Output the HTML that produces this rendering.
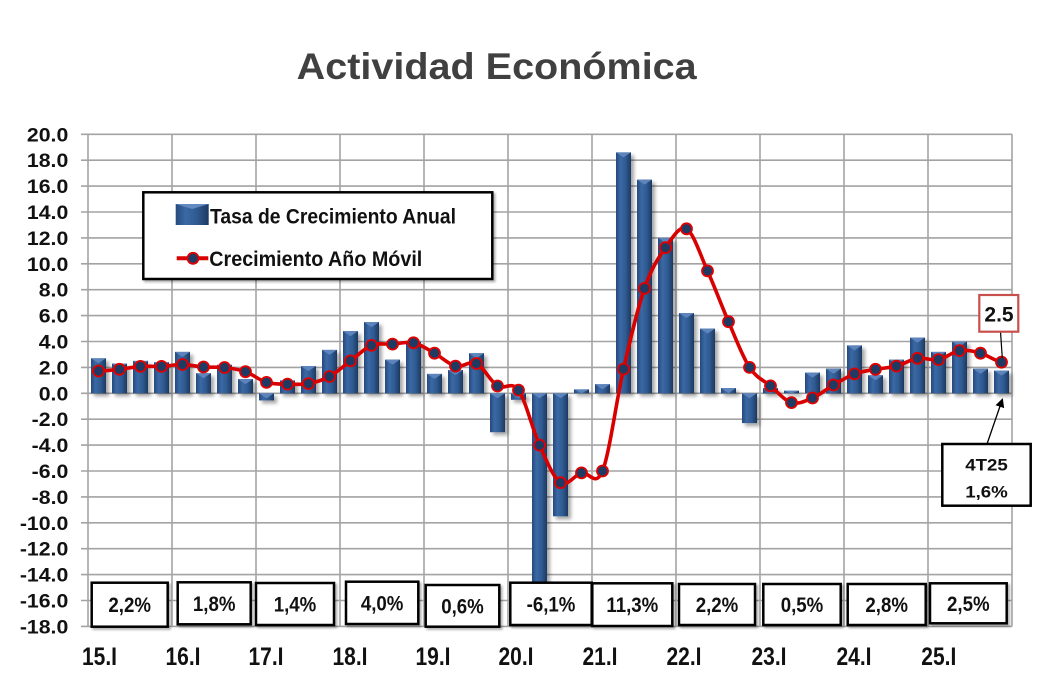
<!DOCTYPE html>
<html><head><meta charset="utf-8"><style>
html,body{margin:0;padding:0;background:#fff;}
svg{display:block;font-family:"Liberation Sans",Arial,sans-serif;}
</style></head><body>
<svg width="1053" height="686" viewBox="0 0 1053 686" xmlns="http://www.w3.org/2000/svg">
<defs>
<linearGradient id="bg" x1="0" y1="0" x2="1" y2="0">
<stop offset="0" stop-color="#26497c"/><stop offset="0.3" stop-color="#3b69a5"/><stop offset="0.65" stop-color="#2f5a90"/><stop offset="1" stop-color="#1c3962"/>
</linearGradient>
<filter id="sh" x="-20%" y="-20%" width="160%" height="140%"><feDropShadow dx="3" dy="3" stdDeviation="1.8" flood-color="#000" flood-opacity="0.35"/></filter>
<filter id="bs" x="-10%" y="-10%" width="130%" height="140%"><feDropShadow dx="2" dy="2" stdDeviation="1" flood-color="#000" flood-opacity="0.3"/></filter>
<marker id="ah" viewBox="0 0 10 10" refX="9" refY="5" markerWidth="7" markerHeight="7" orient="auto"><path d="M0,0 L10,5 L0,10 z" fill="#000"/></marker>
</defs>
<rect width="1053" height="686" fill="#fff"/>
<text x="496.7" y="79" text-anchor="middle" font-size="37" font-weight="bold" fill="#404040" textLength="400" lengthAdjust="spacingAndGlyphs">Actividad Económica</text>
<g stroke="#a3a3a3" stroke-width="1.6">
<line x1="81" y1="134.3" x2="1012" y2="134.3"/><line x1="81" y1="160.2" x2="1012" y2="160.2"/><line x1="81" y1="186.1" x2="1012" y2="186.1"/><line x1="81" y1="212" x2="1012" y2="212"/><line x1="81" y1="237.9" x2="1012" y2="237.9"/><line x1="81" y1="263.8" x2="1012" y2="263.8"/><line x1="81" y1="289.7" x2="1012" y2="289.7"/><line x1="81" y1="315.6" x2="1012" y2="315.6"/><line x1="81" y1="341.5" x2="1012" y2="341.5"/><line x1="81" y1="367.4" x2="1012" y2="367.4"/><line x1="81" y1="393.3" x2="1012" y2="393.3"/><line x1="81" y1="419.2" x2="1012" y2="419.2"/><line x1="81" y1="445.1" x2="1012" y2="445.1"/><line x1="81" y1="471" x2="1012" y2="471"/><line x1="81" y1="496.9" x2="1012" y2="496.9"/><line x1="81" y1="522.8" x2="1012" y2="522.8"/><line x1="81" y1="548.7" x2="1012" y2="548.7"/><line x1="81" y1="574.6" x2="1012" y2="574.6"/><line x1="81" y1="600.5" x2="1012" y2="600.5"/><line x1="81" y1="626.4" x2="1012" y2="626.4"/>
<line x1="88" y1="134.3" x2="88" y2="626.4"/><line x1="172" y1="134.3" x2="172" y2="626.4"/><line x1="256" y1="134.3" x2="256" y2="626.4"/><line x1="340" y1="134.3" x2="340" y2="626.4"/><line x1="424" y1="134.3" x2="424" y2="626.4"/><line x1="508" y1="134.3" x2="508" y2="626.4"/><line x1="592" y1="134.3" x2="592" y2="626.4"/><line x1="676" y1="134.3" x2="676" y2="626.4"/><line x1="760" y1="134.3" x2="760" y2="626.4"/><line x1="844" y1="134.3" x2="844" y2="626.4"/><line x1="928" y1="134.3" x2="928" y2="626.4"/><line x1="1012" y1="134.3" x2="1012" y2="626.4"/>
</g>
<g filter="url(#sh)" fill="url(#bg)">
<rect x="91" y="358.3" width="15" height="35"/><rect x="112" y="363.5" width="15" height="29.8"/><rect x="133" y="360.9" width="15" height="32.4"/><rect x="154" y="362.2" width="15" height="31.1"/><rect x="175" y="351.9" width="15" height="41.4"/><rect x="196" y="373.2" width="15" height="20.1"/><rect x="217" y="364.8" width="15" height="28.5"/><rect x="238" y="379.1" width="15" height="14.2"/><rect x="259" y="393.3" width="15" height="7.1"/><rect x="280" y="380.4" width="15" height="12.9"/><rect x="301" y="366.1" width="15" height="27.2"/><rect x="322" y="349.9" width="15" height="43.4"/><rect x="343" y="331.1" width="15" height="62.2"/><rect x="364" y="322.1" width="15" height="71.2"/><rect x="385" y="359.6" width="15" height="33.7"/><rect x="406" y="341.5" width="15" height="51.8"/><rect x="427" y="373.9" width="15" height="19.4"/><rect x="448" y="370" width="15" height="23.3"/><rect x="469" y="353.2" width="15" height="40.1"/><rect x="490" y="393.3" width="15" height="38.9"/><rect x="511" y="393.3" width="15" height="6.5"/><rect x="532" y="393.3" width="15" height="200.7"/><rect x="553" y="393.3" width="15" height="123"/><rect x="574" y="389.4" width="15" height="3.9"/><rect x="595" y="384.2" width="15" height="9.1"/><rect x="616" y="152.4" width="15" height="240.9"/><rect x="637" y="179.6" width="15" height="213.7"/><rect x="658" y="237.9" width="15" height="155.4"/><rect x="679" y="313" width="15" height="80.3"/><rect x="700" y="328.6" width="15" height="64.7"/><rect x="721" y="388.1" width="15" height="5.2"/><rect x="742" y="393.3" width="15" height="29.8"/><rect x="763" y="388.1" width="15" height="5.2"/><rect x="784" y="390.7" width="15" height="2.6"/><rect x="805" y="372.6" width="15" height="20.7"/><rect x="826" y="368.7" width="15" height="24.6"/><rect x="847" y="345.4" width="15" height="47.9"/><rect x="868" y="375.2" width="15" height="18.1"/><rect x="889" y="359.6" width="15" height="33.7"/><rect x="910" y="337.6" width="15" height="55.7"/><rect x="931" y="351.9" width="15" height="41.4"/><rect x="952" y="341.5" width="15" height="51.8"/><rect x="973" y="368.7" width="15" height="24.6"/><rect x="994" y="370.6" width="15" height="22.7"/>
</g>
<g fill="#6289c0" opacity="0.9">
<polygon points="91,358.3 106,358.3 98.5,363.3"/><polygon points="112,363.5 127,363.5 119.5,368.5"/><polygon points="133,360.9 148,360.9 140.5,365.9"/><polygon points="154,362.2 169,362.2 161.5,367.2"/><polygon points="175,351.9 190,351.9 182.5,356.9"/><polygon points="196,373.2 211,373.2 203.5,378.2"/><polygon points="217,364.8 232,364.8 224.5,369.8"/><polygon points="238,379.1 253,379.1 245.5,384.1"/><polygon points="259,393.3 274,393.3 266.5,398.3"/><polygon points="280,380.4 295,380.4 287.5,385.4"/><polygon points="301,366.1 316,366.1 308.5,371.1"/><polygon points="322,349.9 337,349.9 329.5,354.9"/><polygon points="343,331.1 358,331.1 350.5,336.1"/><polygon points="364,322.1 379,322.1 371.5,327.1"/><polygon points="385,359.6 400,359.6 392.5,364.6"/><polygon points="406,341.5 421,341.5 413.5,346.5"/><polygon points="427,373.9 442,373.9 434.5,378.9"/><polygon points="448,370 463,370 455.5,375"/><polygon points="469,353.2 484,353.2 476.5,358.2"/><polygon points="490,393.3 505,393.3 497.5,398.3"/><polygon points="511,393.3 526,393.3 518.5,398.3"/><polygon points="532,393.3 547,393.3 539.5,398.3"/><polygon points="553,393.3 568,393.3 560.5,398.3"/><polygon points="574,389.4 589,389.4 581.5,393.3"/><polygon points="595,384.2 610,384.2 602.5,389.2"/><polygon points="616,152.4 631,152.4 623.5,157.4"/><polygon points="637,179.6 652,179.6 644.5,184.6"/><polygon points="658,237.9 673,237.9 665.5,242.9"/><polygon points="679,313 694,313 686.5,318"/><polygon points="700,328.6 715,328.6 707.5,333.6"/><polygon points="721,388.1 736,388.1 728.5,393.1"/><polygon points="742,393.3 757,393.3 749.5,398.3"/><polygon points="763,388.1 778,388.1 770.5,393.1"/><polygon points="784,390.7 799,390.7 791.5,393.3"/><polygon points="805,372.6 820,372.6 812.5,377.6"/><polygon points="826,368.7 841,368.7 833.5,373.7"/><polygon points="847,345.4 862,345.4 854.5,350.4"/><polygon points="868,375.2 883,375.2 875.5,380.2"/><polygon points="889,359.6 904,359.6 896.5,364.6"/><polygon points="910,337.6 925,337.6 917.5,342.6"/><polygon points="931,351.9 946,351.9 938.5,356.9"/><polygon points="952,341.5 967,341.5 959.5,346.5"/><polygon points="973,368.7 988,368.7 980.5,373.7"/><polygon points="994,370.6 1009,370.6 1001.5,375.6"/>
</g>
<path fill="none" stroke="#d90000" stroke-width="3.6" stroke-linejoin="round" d="M98.5,371 C105.5,370.72 112.5,370.07 119.5,369.3 C126.5,368.53 133.5,366.88 140.5,366.4 C147.5,365.92 154.5,366.72 161.5,366.4 C168.5,366.08 175.5,364.4 182.5,364.5 C189.5,364.6 196.5,366.5 203.5,367 C210.5,367.5 217.5,366.72 224.5,367.5 C231.5,368.28 238.5,369.22 245.5,371.7 C252.5,374.18 259.5,380.33 266.5,382.4 C273.5,384.47 280.5,383.9 287.5,384.1 C294.5,384.3 301.5,384.87 308.5,383.6 C315.5,382.33 322.5,380.28 329.5,376.5 C336.5,372.72 343.5,366.08 350.5,360.9 C357.5,355.72 364.5,348.2 371.5,345.4 C378.5,342.6 385.5,344.53 392.5,344.1 C399.5,343.67 406.5,341.28 413.5,342.8 C420.5,344.32 427.5,349.32 434.5,353.2 C441.5,357.08 448.5,364.38 455.5,366.1 C462.5,367.82 469.5,360.18 476.5,363.5 C483.5,366.82 490.5,381.57 497.5,386 C504.5,390.43 511.5,380.25 518.5,390.1 C525.5,399.95 532.5,429.67 539.5,445.1 C546.5,460.53 553.5,478.07 560.5,482.7 C567.5,487.33 574.5,474.85 581.5,472.9 C588.5,470.95 595.5,488.3 602.5,471 C609.5,453.7 616.5,399.53 623.5,369.1 C630.5,338.67 637.5,308.65 644.5,288.4 C651.5,268.15 658.5,257.53 665.5,247.6 C672.5,237.67 679.5,224.92 686.5,228.8 C693.5,232.68 700.5,255.42 707.5,270.9 C714.5,286.38 721.5,305.62 728.5,321.7 C735.5,337.78 742.5,356.7 749.5,367.4 C756.5,378.1 763.5,380.03 770.5,385.9 C777.5,391.77 784.5,400.58 791.5,402.6 C798.5,404.62 805.5,400.93 812.5,398 C819.5,395.07 826.5,389.02 833.5,385 C840.5,380.98 847.5,376.52 854.5,373.9 C861.5,371.28 868.5,370.6 875.5,369.3 C882.5,368 889.5,367.93 896.5,366.1 C903.5,364.27 910.5,359.38 917.5,358.3 C924.5,357.22 931.5,360.88 938.5,359.6 C945.5,358.32 952.5,351.67 959.5,350.6 C966.5,349.53 973.5,351.27 980.5,353.2 C987.5,355.13 994.5,360.7 1001.5,362.2"/>
<g fill="#1f3b63" stroke="#e00000" stroke-width="1.8">
<circle cx="98.5" cy="371" r="5.5"/><circle cx="119.5" cy="369.3" r="5.5"/><circle cx="140.5" cy="366.4" r="5.5"/><circle cx="161.5" cy="366.4" r="5.5"/><circle cx="182.5" cy="364.5" r="5.5"/><circle cx="203.5" cy="367" r="5.5"/><circle cx="224.5" cy="367.5" r="5.5"/><circle cx="245.5" cy="371.7" r="5.5"/><circle cx="266.5" cy="382.4" r="5.5"/><circle cx="287.5" cy="384.1" r="5.5"/><circle cx="308.5" cy="383.6" r="5.5"/><circle cx="329.5" cy="376.5" r="5.5"/><circle cx="350.5" cy="360.9" r="5.5"/><circle cx="371.5" cy="345.4" r="5.5"/><circle cx="392.5" cy="344.1" r="5.5"/><circle cx="413.5" cy="342.8" r="5.5"/><circle cx="434.5" cy="353.2" r="5.5"/><circle cx="455.5" cy="366.1" r="5.5"/><circle cx="476.5" cy="363.5" r="5.5"/><circle cx="497.5" cy="386" r="5.5"/><circle cx="518.5" cy="390.1" r="5.5"/><circle cx="539.5" cy="445.1" r="5.5"/><circle cx="560.5" cy="482.7" r="5.5"/><circle cx="581.5" cy="472.9" r="5.5"/><circle cx="602.5" cy="471" r="5.5"/><circle cx="623.5" cy="369.1" r="5.5"/><circle cx="644.5" cy="288.4" r="5.5"/><circle cx="665.5" cy="247.6" r="5.5"/><circle cx="686.5" cy="228.8" r="5.5"/><circle cx="707.5" cy="270.9" r="5.5"/><circle cx="728.5" cy="321.7" r="5.5"/><circle cx="749.5" cy="367.4" r="5.5"/><circle cx="770.5" cy="385.9" r="5.5"/><circle cx="791.5" cy="402.6" r="5.5"/><circle cx="812.5" cy="398" r="5.5"/><circle cx="833.5" cy="385" r="5.5"/><circle cx="854.5" cy="373.9" r="5.5"/><circle cx="875.5" cy="369.3" r="5.5"/><circle cx="896.5" cy="366.1" r="5.5"/><circle cx="917.5" cy="358.3" r="5.5"/><circle cx="938.5" cy="359.6" r="5.5"/><circle cx="959.5" cy="350.6" r="5.5"/><circle cx="980.5" cy="353.2" r="5.5"/><circle cx="1001.5" cy="362.2" r="5.5"/>
</g>
<!-- legend -->
<rect x="143.3" y="192.3" width="349" height="86.7" fill="#fff" stroke="#000" stroke-width="2.5" filter="url(#bs)"/>
<rect x="175.7" y="204" width="33" height="21" fill="url(#bg)"/>
<polygon points="175.7,204 208.7,204 192.2,209" fill="#6289c0"/>
<text x="210" y="223.3" font-size="21" font-weight="bold" fill="#111" textLength="246" lengthAdjust="spacingAndGlyphs">Tasa de Crecimiento Anual</text>
<line x1="176.7" y1="258.3" x2="208.3" y2="258.3" stroke="#d90000" stroke-width="4"/>
<circle cx="193" cy="258.3" r="5.5" fill="#1f3b63" stroke="#e00000" stroke-width="1.8"/>
<text x="209.3" y="266" font-size="21" font-weight="bold" fill="#111" textLength="213" lengthAdjust="spacingAndGlyphs">Crecimiento Año Móvil</text>
<!-- bottom boxes -->
<g fill="#fff" stroke="#000" stroke-width="2.5" filter="url(#bs)">
<rect x="91.7" y="582.7" width="76" height="44"/><rect x="177.7" y="582.3" width="73" height="42"/><rect x="256" y="583" width="78" height="42"/><rect x="346" y="581.7" width="72.3" height="42.3"/><rect x="425.7" y="585" width="73.6" height="41.7"/><rect x="510.3" y="582.7" width="81.4" height="42.3"/><rect x="592.3" y="583.3" width="80" height="42.7"/><rect x="679" y="584" width="76" height="41"/><rect x="763.3" y="584" width="77.4" height="41"/><rect x="847.7" y="584" width="78" height="41"/><rect x="930" y="583.3" width="76.7" height="40"/>
</g>
<g font-size="21" font-weight="bold" fill="#111" text-anchor="middle">
<text transform="translate(129.7,612) scale(0.89,1)">2,2%</text>
<text transform="translate(214.2,611) scale(0.89,1)">1,8%</text>
<text transform="translate(295,611.5) scale(0.89,1)">1,4%</text>
<text transform="translate(382.1,610.3) scale(0.89,1)">4,0%</text>
<text transform="translate(462.5,613.3) scale(0.89,1)">0,6%</text>
<text transform="translate(551,611.3) scale(0.89,1)">-6,1%</text>
<text transform="translate(632.3,612.1) scale(0.89,1)">11,3%</text>
<text transform="translate(717,612) scale(0.89,1)">2,2%</text>
<text transform="translate(802,612) scale(0.89,1)">0,5%</text>
<text transform="translate(886.7,612) scale(0.89,1)">2,8%</text>
<text transform="translate(968.3,610.8) scale(0.89,1)">2,5%</text>
</g>
<!-- annotations -->
<line x1="1000.5" y1="331.7" x2="1002.3" y2="358" stroke="#000" stroke-width="1.2"/>
<rect x="979.3" y="295" width="39" height="36.7" fill="#fff" stroke="#c8504c" stroke-width="2.2"/>
<text x="999" y="321.3" font-size="21" font-weight="bold" fill="#111" text-anchor="middle">2.5</text>
<line x1="987" y1="444" x2="1002.5" y2="399" stroke="#000" stroke-width="1.3" marker-end="url(#ah)"/>
<rect x="942.3" y="444" width="88.4" height="61.7" fill="#fff" stroke="#000" stroke-width="2.5"/>
<g font-size="17" font-weight="bold" fill="#111" text-anchor="middle">
<text transform="translate(986.5,470.7) scale(1.1,1)">4T25</text>
<text transform="translate(986.5,497.3) scale(1.1,1)">1,6%</text>
</g>
<!-- y labels -->
<g font-size="19" font-weight="bold" fill="#111" text-anchor="end">
<text transform="translate(68.3,141.3) scale(1.12,1)">20.0</text>
<text transform="translate(68.3,167.2) scale(1.12,1)">18.0</text>
<text transform="translate(68.3,193.1) scale(1.12,1)">16.0</text>
<text transform="translate(68.3,219) scale(1.12,1)">14.0</text>
<text transform="translate(68.3,244.9) scale(1.12,1)">12.0</text>
<text transform="translate(68.3,270.8) scale(1.12,1)">10.0</text>
<text transform="translate(68.3,296.7) scale(1.12,1)">8.0</text>
<text transform="translate(68.3,322.6) scale(1.12,1)">6.0</text>
<text transform="translate(68.3,348.5) scale(1.12,1)">4.0</text>
<text transform="translate(68.3,374.4) scale(1.12,1)">2.0</text>
<text transform="translate(68.3,400.3) scale(1.12,1)">0.0</text>
<text transform="translate(68.3,426.2) scale(1.12,1)">-2.0</text>
<text transform="translate(68.3,452.1) scale(1.12,1)">-4.0</text>
<text transform="translate(68.3,478) scale(1.12,1)">-6.0</text>
<text transform="translate(68.3,503.9) scale(1.12,1)">-8.0</text>
<text transform="translate(68.3,529.8) scale(1.12,1)">-10.0</text>
<text transform="translate(68.3,555.7) scale(1.12,1)">-12.0</text>
<text transform="translate(68.3,581.6) scale(1.12,1)">-14.0</text>
<text transform="translate(68.3,607.5) scale(1.12,1)">-16.0</text>
<text transform="translate(68.3,633.4) scale(1.12,1)">-18.0</text>
</g>
<!-- x labels -->
<g font-size="25" font-weight="bold" fill="#111" text-anchor="middle">
<text transform="translate(99.5,665) scale(0.84,1)">15.I</text>
<text transform="translate(183,665) scale(0.84,1)">16.I</text>
<text transform="translate(266,665) scale(0.84,1)">17.I</text>
<text transform="translate(350,665) scale(0.84,1)">18.I</text>
<text transform="translate(433,665) scale(0.84,1)">19.I</text>
<text transform="translate(516,665) scale(0.84,1)">20.I</text>
<text transform="translate(600,665) scale(0.84,1)">21.I</text>
<text transform="translate(684,665) scale(0.84,1)">22.I</text>
<text transform="translate(769,665) scale(0.84,1)">23.I</text>
<text transform="translate(854,665) scale(0.84,1)">24.I</text>
<text transform="translate(938.8,665) scale(0.84,1)">25.I</text>
</g>
</svg>
</body></html>
